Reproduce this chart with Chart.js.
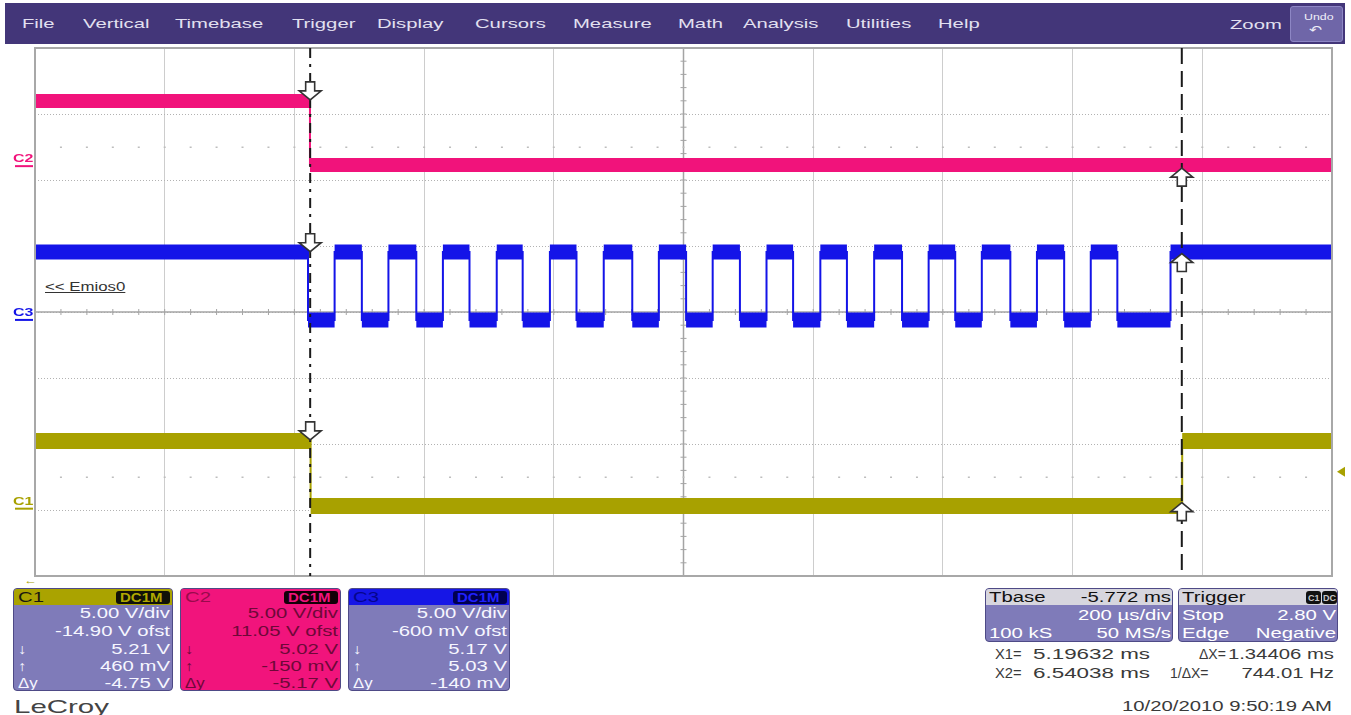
<!DOCTYPE html>
<html>
<head>
<meta charset="utf-8">
<script src="https://cdn.jsdelivr.net/npm/chart.js@4.4.0/dist/chart.umd.min.js"></script>
<style>
  html, body { margin: 0; padding: 0; background: #fff; width: 1351px; height: 715px; overflow: hidden;
    font-family: "Liberation Sans", Arial, sans-serif; }
  .t { position: absolute; white-space: nowrap; transform-origin: 0 0; }
  .box { position: absolute; overflow: hidden; }
  #chart { position: absolute; left: 0; top: 0; pointer-events: none; }
</style>
</head>
<body>
<div id="ui"></div>
<canvas id="chart" width="1351" height="715"></canvas>
<script>
// ---- timebase / cursors ----
const msPerDiv = 0.2;
const delayMs = 5.772;            // time at screen centre
const cursorTimes = [5.19632, 6.54038];

// ---- channels: C1, C2, C3 ----
const channelNames = ["C1", "C2", "C3"];
const voltsPerDiv = [5, 5, 5];
const offsetVolts = [-14.90, 11.05, -0.60];
const channelColors = ["#a8a100", "#f1137b", "#1414e8"];
const triggerLevel = 2.80;        // on C1

// cursor readings (volts) at X1 and X2
const levelAtX1 = [5.21, 5.02, 5.17];
const levelAtX2 = [0.46, -0.15, 5.03];

// edges (ms) and the level (V) of every segment between them
const c1Edges = [5.197, 6.541];
const c1Levels = [5.13, 0.21, 5.13];

const c2Edges = [5.196];
const c2Levels = [4.93, 0.08];

const c3Edges = [5.193, 5.234, 5.276, 5.317, 5.360, 5.401, 5.442, 5.484, 5.524, 5.566, 5.607,
  5.649, 5.693, 5.734, 5.776, 5.817, 5.859, 5.900, 5.941, 5.983, 6.024, 6.066, 6.109,
  6.150, 6.191, 6.232, 6.276, 6.317, 6.359, 6.400, 6.441, 6.523];
const c3Levels = [5.15, 0.00, 5.15, 0.00, 5.15, 0.00, 5.15, 0.00, 5.15, 0.00, 5.15,
  0.00, 5.15, 0.00, 5.15, 0.00, 5.15, 0.00, 5.15, 0.00, 5.15, 0.00, 5.15,
  0.00, 5.15, 0.00, 5.15, 0.00, 5.15, 0.00, 5.15, 0.00, 5.15];

const tLeft = delayMs - 5 * msPerDiv;
const tRight = delayMs + 5 * msPerDiv;

// ---------- page chrome (menu, panels, texts) ----------
const ui = document.getElementById("ui");
const SX = 1.45;

function box(parent, x, y, w, h, bg, extra) {
  const d = document.createElement("div");
  d.className = "box";
  Object.assign(d.style, { left: x + "px", top: y + "px", width: w + "px", height: h + "px", background: bg }, extra || {});
  parent.appendChild(d);
  return d;
}
function txt(parent, s, x, cy, o) {
  o = o || {};
  const size = o.size || 14;
  const sx = o.sx || SX;
  const d = document.createElement("span");
  d.className = "t";
  d.textContent = s;
  d.style.fontSize = size + "px";
  d.style.lineHeight = size + "px";
  d.style.color = o.color || "#fff";
  if (o.weight) d.style.fontWeight = o.weight;
  if (o.underline) d.style.textDecoration = "underline";
  d.style.left = x + "px";
  d.style.top = (cy - size * 0.5) + "px";
  if (o.right) {
    d.style.transformOrigin = "100% 0";
    d.style.transform = "translateX(-100%) scaleX(" + sx + ")";
  } else {
    d.style.transform = "scaleX(" + sx + ")";
  }
  parent.appendChild(d);
  return d;
}

// menu bar
box(ui, 5, 3, 1340, 41, "#433679");
const menuItems = ["File", "Vertical", "Timebase", "Trigger", "Display", "Cursors", "Measure", "Math", "Analysis", "Utilities", "Help"];
const menuX = [22, 83, 175, 292, 377, 475, 573, 678, 743, 846, 938];
menuItems.forEach((m, i) => txt(ui, m, menuX[i], 24, { size: 13.5, color: "#e2e0f0", sx: 1.5 }));
txt(ui, "Zoom", 1230, 25, { size: 13.5, color: "#e2e0f0", sx: 1.5 });
box(ui, 1290, 6, 53, 36, "#6f66a8", { borderRadius: "3px", border: "1px solid #8d86c4", boxSizing: "border-box" });
txt(ui, "Undo", 1304, 17, { size: 9.5, color: "#f0f0f8", sx: 1.3 });
txt(ui, "\u21B6", 1309, 30, { size: 12, color: "#f0f0f8", sx: 1.3 });

// channel panels
const panelX = [13, 180, 348];
const panelW = [160, 161, 162];
const panelBody = ["#7f7bb9", "#f1147c", "#7f7bb9"];
const panelHead = ["#aaa300", "#f1147c", "#1616e6"];
const panelHeadText = ["#1a1a10", "#9a0a4c", "#05058c"];
const panelBodyText = ["#f6f6ff", "#6e0838", "#f6f6ff"];
const badgeBg = ["#111108", "#140008", "#000050"];
const badgeText = ["#b0a800", "#f1147c", "#2020ff"];
const panelRows = [
  ["5.00 V/div", "-14.90 V ofst", "5.21 V", "460 mV", "-4.75 V"],
  ["5.00 V/div", "11.05 V ofst", "5.02 V", "-150 mV", "-5.17 V"],
  ["5.00 V/div", "-600 mV ofst", "5.17 V", "5.03 V", "-140 mV"]
];
const rowSymbols = ["", "", "\u2193", "\u2191", "\u0394y"];
const rowY = [24, 42, 60, 77, 94];
for (let k = 0; k < 3; k++) {
  const p = box(ui, panelX[k], 588, panelW[k], 103, panelBody[k], { borderRadius: "4px", border: "1px solid #4e4a86", boxSizing: "border-box" });
  box(p, 0, 0, panelW[k], 16, panelHead[k]);
  txt(p, channelNames[k], 4, 8, { color: panelHeadText[k], size: 14 });
  const b = box(p, panelW[k] - 58, 2, 54, 13, badgeBg[k], { borderRadius: "3px" });
  txt(b, "DC1M", 4, 7, { color: badgeText[k], size: 12, weight: "bold", sx: 1.25 });
  panelRows[k].forEach((s, i) => {
    txt(p, s, panelW[k] - 4, rowY[i], { right: true, color: panelBodyText[k] });
    if (rowSymbols[i]) txt(p, rowSymbols[i], 4, rowY[i], { color: panelBodyText[k], sx: 1.2 });
  });
}

// timebase panel
const tb = box(ui, 985, 588, 188, 54, "#7f7bb9", { borderRadius: "4px", border: "1px solid #4e4a86", boxSizing: "border-box" });
box(tb, 0, 0, 188, 16, "#d7d6de");
txt(tb, "Tbase", 3, 8, { color: "#111" });
txt(tb, "-5.772 ms", 185, 8, { color: "#111", right: true });
txt(tb, "200 \u00B5s/div", 185, 26, { right: true });
txt(tb, "100 kS", 3, 44);
txt(tb, "50 MS/s", 185, 44, { right: true });

// trigger panel
const tg = box(ui, 1178, 588, 160, 54, "#7f7bb9", { borderRadius: "4px", border: "1px solid #4e4a86", boxSizing: "border-box" });
box(tg, 0, 0, 160, 16, "#d7d6de");
txt(tg, "Trigger", 3, 8, { color: "#111" });
const bc1 = box(tg, 127, 2, 15, 13, "#111", { borderRadius: "3px" });
txt(bc1, "C1", 2, 7, { color: "#c8c8c8", size: 9, weight: "bold", sx: 1.0 });
const bdc = box(tg, 143, 2, 15, 13, "#111", { borderRadius: "3px" });
txt(bdc, "DC", 1, 7, { color: "#c8c8c8", size: 9, weight: "bold", sx: 1.0 });
txt(tg, "Stop", 3, 26);
txt(tg, "2.80 V", 157, 26, { right: true });
txt(tg, "Edge", 3, 44);
txt(tg, "Negative", 157, 44, { right: true });

// cursor readout
const ro = "#3a3a3a";
txt(ui, "X1=", 995, 654, { color: ro, sx: 1.05 });
txt(ui, "5.19632 ms", 1033, 654, { color: ro, sx: 1.6 });
txt(ui, "\u0394X=", 1199, 654, { color: ro, sx: 1.0 });
txt(ui, "1.34406 ms", 1334, 654, { color: ro, right: true });
txt(ui, "X2=", 995, 673, { color: ro, sx: 1.05 });
txt(ui, "6.54038 ms", 1033, 673, { color: ro, sx: 1.6 });
txt(ui, "1/\u0394X=", 1170, 673, { color: ro, sx: 1.0 });
txt(ui, "744.01 Hz", 1334, 673, { color: ro, right: true });
txt(ui, "10/20/2010 9:50:19 AM", 1332, 706, { color: ro, right: true });
txt(ui, "LeCroy", 14, 706, { color: "#444", size: 19, sx: 1.55 });
txt(ui, "<< Emios0", 45, 287, { color: "#333", size: 12, underline: true, sx: 1.4 });
txt(ui, "\u2190", 24, 580, { color: "#a8a100", size: 11, weight: "bold", sx: 1.2 });

// ---------- chart data ----------
function stepPoints(edges, levels) {
  const pts = [{ x: tLeft, y: levels[0] }];
  edges.forEach((t, i) => pts.push({ x: t, y: levels[i + 1] }));
  pts.push({ x: tRight, y: levels[levels.length - 1] });
  return pts;
}
function bandPoints(edges, levels) {
  const bounds = [tLeft, ...edges, tRight];
  const pts = [];
  levels.forEach((v, i) => {
    pts.push({ x: bounds[i], y: v }, { x: bounds[i + 1], y: v }, { x: bounds[i + 1], y: null });
  });
  return pts;
}

const allEdges = [c1Edges, c2Edges, c3Edges];
const allLevels = [c1Levels, c2Levels, c3Levels];
const bandWidth = [16, 14, 15];
const datasets = [];
for (let k = 0; k < 3; k++) {
  const axis = "c" + (k + 1);
  datasets.push({
    data: bandPoints(allEdges[k], allLevels[k]), yAxisID: axis,
    borderColor: channelColors[k], borderWidth: bandWidth[k], borderCapStyle: "butt",
    pointRadius: 0, spanGaps: false
  });
  datasets.push({
    data: stepPoints(allEdges[k], allLevels[k]), yAxisID: axis, stepped: true,
    borderColor: channelColors[k], borderWidth: 2, pointRadius: 0
  });
}

const channelScales = {};
for (let k = 0; k < 3; k++) {
  channelScales["c" + (k + 1)] = {
    type: "linear", display: false,
    min: -4 * voltsPerDiv[k] - offsetVolts[k],
    max: 4 * voltsPerDiv[k] - offsetVolts[k]
  };
}

function line(ctx, x1, y1, x2, y2) {
  ctx.beginPath(); ctx.moveTo(x1, y1); ctx.lineTo(x2, y2); ctx.stroke();
}
function arrow(ctx, x, tipY, dir) {
  const hw = 11, sw = 4.5, hh = 9, sh = 9;
  ctx.beginPath();
  ctx.moveTo(x, tipY);
  ctx.lineTo(x - hw, tipY - dir * hh);
  ctx.lineTo(x - sw, tipY - dir * hh);
  ctx.lineTo(x - sw, tipY - dir * (hh + sh));
  ctx.lineTo(x + sw, tipY - dir * (hh + sh));
  ctx.lineTo(x + sw, tipY - dir * hh);
  ctx.lineTo(x + hw, tipY - dir * hh);
  ctx.closePath();
  ctx.fillStyle = "#fff"; ctx.fill();
  ctx.lineWidth = 1.6; ctx.strokeStyle = "#333"; ctx.stroke();
}

const scopeDecor = {
  id: "scopeDecor",
  beforeDatasetsDraw(chart) {
    const { ctx, chartArea: a, scales } = chart;
    const x = scales.x, y = scales.y;
    const cx = x.getPixelForValue(delayMs), cy = y.getPixelForValue(0);
    ctx.save();
    ctx.strokeStyle = "#a4a4a4"; ctx.lineWidth = 1.5;
    line(ctx, cx, a.top, cx, a.bottom);
    line(ctx, a.left, cy, a.right, cy);
    ctx.lineWidth = 1;
    for (let i = 1; i < 50; i++) {
      const px = x.getPixelForValue(tLeft + i * msPerDiv / 5);
      line(ctx, px, cy - 3, px, cy + 3);
      ctx.fillStyle = "#bdbdbd";
      [2.5, -2.5].forEach(d => ctx.fillRect(px - 1, y.getPixelForValue(d) - 0.5, 2, 1.5));
    }
    for (let i = 1; i < 40; i++) {
      const py = y.getPixelForValue(-4 + i / 5);
      line(ctx, cx - 3, py, cx + 3, py);
    }
    ctx.restore();
  },
  afterDatasetsDraw(chart) {
    const { ctx, chartArea: a, scales } = chart;
    const x = scales.x;
    ctx.save();
    // frame
    ctx.strokeStyle = "#a8a8a8"; ctx.lineWidth = 2;
    ctx.strokeRect(a.left, a.top, a.right - a.left, a.bottom - a.top);
    // cursors
    const x1 = x.getPixelForValue(cursorTimes[0]);
    const x2 = x.getPixelForValue(cursorTimes[1]);
    ctx.strokeStyle = "#1a1a1a"; ctx.lineWidth = 2;
    ctx.setLineDash([10, 6, 3, 6]);
    line(ctx, x1, a.top, x1, a.bottom);
    ctx.setLineDash([16, 7]);
    line(ctx, x2, a.top, x2, a.bottom);
    ctx.setLineDash([]);
    // cursor markers on each trace
    for (let k = 0; k < 3; k++) {
      const s = scales["c" + (k + 1)];
      arrow(ctx, x1, s.getPixelForValue(levelAtX1[k]), 1);
      arrow(ctx, x2, s.getPixelForValue(levelAtX2[k]), -1);
    }
    // ground labels
    for (let k = 0; k < 3; k++) {
      const gy = scales["c" + (k + 1)].getPixelForValue(0);
      ctx.fillStyle = channelColors[k]; ctx.strokeStyle = channelColors[k];
      ctx.save();
      ctx.translate(13, gy - 4);
      ctx.scale(1.45, 1);
      ctx.font = "bold 11px 'Liberation Sans', Arial, sans-serif";
      ctx.textBaseline = "alphabetic";
      ctx.fillText(channelNames[k], 0, 0);
      ctx.restore();
      ctx.lineWidth = 2;
      line(ctx, 15, gy, 33, gy);
    }
    // trigger level marker
    const ty = scales.c1.getPixelForValue(triggerLevel);
    ctx.fillStyle = channelColors[0];
    ctx.beginPath();
    ctx.moveTo(a.right + 5, ty); ctx.lineTo(a.right + 13, ty - 5); ctx.lineTo(a.right + 13, ty + 5);
    ctx.closePath(); ctx.fill();
    ctx.restore();
  }
};

const divTicks = [];
for (let i = 0; i <= 10; i++) divTicks.push(tLeft + i * msPerDiv);

new Chart(document.getElementById("chart").getContext("2d"), {
  type: "line",
  data: { datasets },
  options: {
    responsive: false,
    animation: false,
    devicePixelRatio: 1,
    events: [],
    layout: { padding: { left: 35, top: 48, right: 19, bottom: 139 } },
    plugins: { legend: { display: false }, tooltip: { enabled: false } },
    scales: {
      x: {
        type: "linear", min: tLeft, max: tRight,
        afterBuildTicks: axis => { axis.ticks = divTicks.map(v => ({ value: v })); },
        ticks: { display: false },
        grid: { color: "#cdcdcd", lineWidth: 1, drawTicks: false },
        border: { display: false }
      },
      y: {
        type: "linear", min: -4, max: 4,
        ticks: { display: false, stepSize: 1 },
        grid: { color: "#b2b2b2", lineWidth: 1, drawTicks: false },
        border: { display: false, dash: [1, 2] }
      },
      ...channelScales
    }
  },
  plugins: [scopeDecor]
});
</script>
</body>
</html>
